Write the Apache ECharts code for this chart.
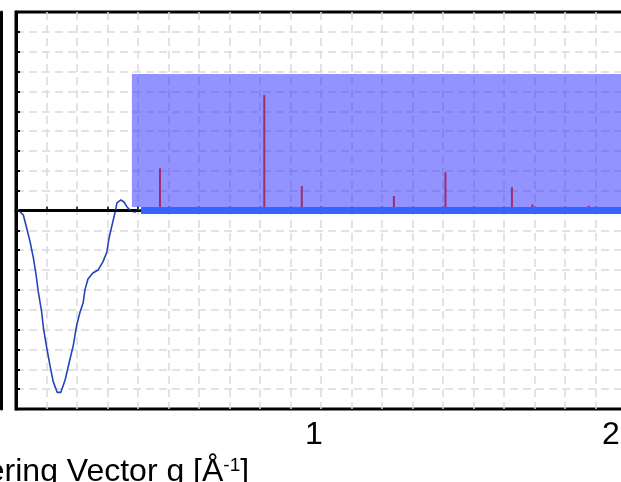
<!DOCTYPE html>
<html>
<head>
<meta charset="utf-8">
<script src="https://cdn.jsdelivr.net/npm/echarts@6/dist/echarts.min.js"></script>
<style>
  html, body { margin: 0; padding: 0; background: #fff; }
  #chart { width: 621px; height: 482px; }
</style>
</head>
<body>
<div id="chart"></div>
<script>
// measured profile (x in 1/Å, y in arbitrary units)
const curveX = [0, 0.0075, 0.024, 0.035, 0.046, 0.057, 0.066, 0.073, 0.084, 0.090, 0.101, 0.111, 0.122, 0.135,
  0.147, 0.161, 0.175, 0.188, 0.199, 0.210, 0.220, 0.226, 0.236, 0.252, 0.269, 0.285, 0.298, 0.305, 0.315,
  0.325, 0.331, 0.344, 0.354, 0.364, 0.377, 0.390, 0.400, 0.410]
const curveY = [0, 0.03, -0.23, -0.88, -1.57, -2.39, -3.25, -4.09, -5.10, -5.92, -6.93, -7.78, -8.62, -9.16,
  -9.16, -8.54, -7.62, -6.78, -5.77, -5.11, -4.66, -4.00, -3.45, -3.15, -3.00, -2.59, -2.09, -1.39, -0.73,
  -0.08, 0.38, 0.53, 0.43, 0.18, -0.03, -0.08, 0.03, 0.03]

// reflection sticks
const peakX = [0.472, 0.814, 0.937, 1.239, 1.408, 1.626, 1.693, 1.878]
const peakH = [2.13, 5.82, 1.23, 0.73, 1.92, 1.17, 0.31, 0.24]

// shaded inset region and its baseline
const boxX = [0.38, 2]
const boxY = [0.18, 6.88]
const baseX = [0.41, 2]

const xTickLabels = [1, 2]

const FONT = 'Liberation Sans, Arial, sans-serif'

const chart = echarts.init(document.getElementById('chart'))

const gridLine = { color: '#dadada', width: 1.5, type: [8, 5] }

const option = {
  animation: false,
  grid: {
    left: 16, right: -5, top: 12, bottom: 73,
    show: true, borderColor: '#000', borderWidth: 3,
    outerBoundsMode: 'none'
  },
  xAxis: {
    type: 'value', min: 0, max: 2, interval: 0.1,
    axisLine: { show: true, lineStyle: { color: '#000', width: 3 } },
    axisTick: { show: true, inside: true, length: 4, lineStyle: { color: '#000', width: 1.5 } },
    axisLabel: {
      margin: 10,
      fontSize: 32, color: '#000', fontFamily: FONT,
      formatter: v => {
        const r = Math.round(v * 10) / 10
        if (!xTickLabels.includes(r)) return ''
        return r === 1 ? '{one|1}' : '{two|2}'
      },
      rich: {
        one: { fontSize: 32, fontFamily: FONT, color: '#000', padding: [0, 14, 0, 0] },
        two: { fontSize: 32, fontFamily: FONT, color: '#000', padding: [0, 30, 0, 0] }
      }
    },
    splitLine: { show: true, showMinLine: false, showMaxLine: false, lineStyle: gridLine },
    name: 'Scattering Vector g [Å{sup|-1}]',
    nameLocation: 'middle',
    nameGap: 33,
    nameTextStyle: {
      fontSize: 32, color: '#000', fontFamily: FONT,
      padding: [0, 479, 0, 0],
      rich: {
        sup: { fontSize: 19, fontFamily: FONT, color: '#000', verticalAlign: 'top', padding: [0, 0, 10, 0] }
      }
    }
  },
  yAxis: [
    {
      type: 'value', min: -10, max: 10, interval: 1,
      axisLine: { show: true, lineStyle: { color: '#000', width: 3 } },
      axisTick: { show: true, inside: true, length: 4, lineStyle: { color: '#000', width: 2 } },
      axisLabel: { show: false },
      splitLine: { show: true, showMinLine: false, showMaxLine: false, lineStyle: gridLine }
    },
    {
      // border of the neighbouring panel, cut by the crop
      type: 'value', position: 'left', offset: 14.5, min: -10, max: 10, interval: 1,
      axisLine: { show: true, onZero: false, lineStyle: { color: '#000', width: 3 } },
      axisTick: { show: false },
      axisLabel: { show: false },
      splitLine: { show: false }
    }
  ],
  series: [
    {
      name: 'profile',
      type: 'line',
      data: curveX.map((x, i) => [x, curveY[i]]),
      showSymbol: false,
      lineStyle: { color: '#2444b8', width: 1.6 },
      z: 3,
      markLine: {
        silent: true,
        symbol: 'none',
        label: { show: false },
        lineStyle: { color: '#000', width: 1.5, type: 'solid' },
        data: [{ yAxis: 0 }]
      },
      markArea: {
        silent: true,
        itemStyle: { color: 'rgba(40, 40, 255, 0.5)' },
        data: [[{ coord: [boxX[0], boxY[0]] }, { coord: [boxX[1], boxY[1]] }]]
      }
    },
    {
      name: 'reflections',
      type: 'bar',
      barWidth: 2,
      data: peakX.map((x, i) => [x, peakH[i]]),
      itemStyle: { color: '#9b2f6e' },
      z: 4
    },
    {
      name: 'baseline',
      type: 'line',
      data: baseX.map(x => [x, 0]),
      showSymbol: false,
      lineStyle: { color: '#3366ff', width: 7 },
      z: 6
    }
  ]
}

chart.setOption(option)
</script>
</body>
</html>
